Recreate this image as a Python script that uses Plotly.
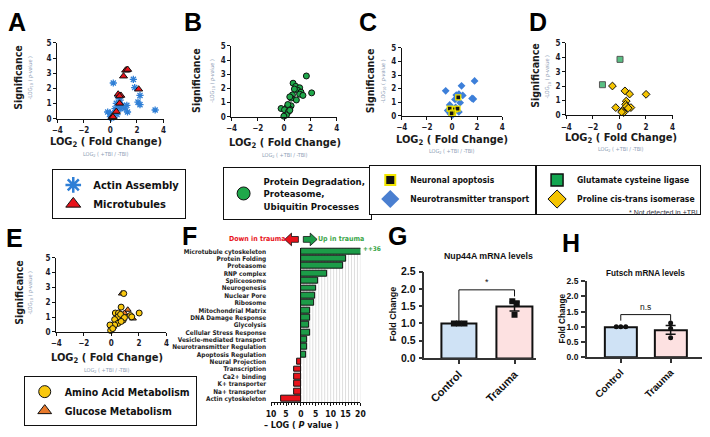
import plotly.graph_objects as go

W, H = 710, 437
CAL = "Liberation Sans Narrow, DejaVu Sans Condensed, Roboto, sans-serif"
ARI = "Liberation Sans, Arial, sans-serif"

# ---------------- data ----------------
A_actin_x = [0.22, 1.73, 1.83, 2.23, 2.08, 2.23, 3.37, 0.59, 0.74, 0.45, 0.89, 1.24, 0.64, 1.09, 0.35, 1.29, -0.2, 0.0, 0.2, 0.0, 0.1, 0.5, 0.79]
A_actin_y = [2.36, 2.60, 2.06, 1.54, 1.10, 0.93, 0.58, 1.45, 1.23, 1.02, 0.89, 0.89, 0.80, 0.71, 0.67, 0.45, 0.45, 0.37, 0.24, 0.15, 0.06, 0.28, 0.67]
A_mt_x = [1.24, 1.15, 1.3, 0.99, 2.13, 0.59, 0.79, 0.69, 0.69, 0.45, 0.15, 0.2]
A_mt_y = [3.22, 3.2, 3.25, 2.81, 1.95, 1.62, 1.54, 1.50, 1.02, 0.48, 0.15, 0.12]

B_x = [1.69, 2.09, 0.68, 0.88, 1.18, 1.03, 0.78, 1.28, 1.18, 1.43, 0.63, 0.53, 0.43, 0.93, 0.53, 0.43, 0.23, -0.23, 0.03, 0.33, 0.18, -0.02, 0.43, 0.28]
B_y = [2.88, 1.69, 2.37, 2.15, 2.05, 1.87, 1.96, 1.74, 1.60, 1.51, 1.55, 1.32, 1.41, 1.19, 0.78, 0.55, 0.68, 0.59, 0.50, 0.37, 0.14, 0.05, 0.46, 0.87]

C_nt_x = [-0.5, 0.76, 1.8, 1.7, 0.34, 0.55, 0.86, 0.24, 0.65, -0.18, -0.34, 0.13, 0.55, -0.13, 0.03, 0.29, 1.6]
C_nt_y = [1.84, 2.21, 2.57, 1.24, 1.53, 1.6, 1.5, 1.21, 0.97, 0.8, 0.39, 0.29, 0.29, 0.15, 0.05, 0.63, 1.28]
C_ap_x = [0.5, -0.18, 0.24, 0.44, 0.08, -0.03]
C_ap_y = [1.36, 0.53, 0.49, 0.53, 0.24, 0.19]

D_glu_x = [-3.38, 0.05, -1.27]
D_glu_y = [5.02, 3.86, 2.1]
D_glu_s = [10, 6, 6]
D_pro_x = [-0.52, 0.42, 0.77, 2.01, 0.52, 0.47, -0.27, 0.52, 0.87, 0.67, 0.22, 0.32, 0.17]
D_pro_y = [2.01, 1.67, 1.45, 1.43, 0.96, 0.74, 0.51, 0.6, 0.51, 0.47, 0.29, 0.16, 0.2]

E_glc_x = [0.76, 1.19, 0.95, 1.57, 0.76, 0.67, 0.38, 0.14]
E_glc_y = [2.59, 1.49, 1.27, 0.9, 1.12, 0.79, 0.61, 0.35]
E_aa_x = [0.9, 2.02, 0.71, 0.29, 0.52, 0.48, 0.67, 1.38, 1.48, 0.24, 0.48, 0.86, 0.95, 0.24, -0.1, -0.05, 0.1, 0.71]
E_aa_y = [2.59, 1.27, 1.67, 1.27, 1.27, 1.01, 1.18, 1.1, 1.01, 0.83, 0.57, 0.79, 0.96, 0.46, 0.46, 0.09, 0.22, 0.7]

F_terms = ["Microtubule cytoskeleton", "Protein Folding", "Proteasome", "RNP complex", "Spliceosome",
           "Neurogenesis", "Nuclear Pore", "Ribosome", "Mitochondrial Matrix", "DNA Damage Response",
           "Glycolysis", "Cellular Stress Response", "Vesicle-mediated transport", "Neurotransmitter Regulation",
           "Apoptosis Regulation", "Neural Projection", "Transcription", "Ca2+ binding", "K+ transporter",
           "Na+ transporter", "Actin cytoskeleton"]
F_values = [36, 15.2, 14.2, 8.7, 5.9, 5.0, 4.8, 4.6, 3.1, 3.1, 2.9, 3.0, 2.1, 2.0, 1.9,
            -1.3, -2.3, -2.3, -2.4, -2.4, -6.5]
F_ticks = [-10, -5, 0, 5, 10, 15, 20]
F_ticktext = ["10", "5", "0", "5", "10", "15", "20"]

groups = ["Control", "Trauma"]
G_means = [1.0, 1.49]
G_sem = [0.0, 0.13]
G_ctrl_pts = [1.0, 1.0, 1.0]
G_ctrl_jit = [-0.09, 0.0, 0.1]
G_tra_pts = [1.64, 1.58, 1.25]
G_tra_jit = [-0.04, 0.04, 0.0]
G_br_x = [0, 0, 1, 1]
G_br_y = [1.04, 1.97, 1.97, 1.78]

H_means = [1.0, 0.9]
H_sem = [0.0, 0.145]
H_ctrl_pts = [1.0, 1.0, 1.0]
H_ctrl_jit = [-0.09, 0.0, 0.1]
H_tra_pts = [1.12, 0.94, 0.64]
H_tra_jit = [0.0, 0.0, 0.0]
H_br_x = [0, 0, 1, 1]
H_br_y = [1.2, 1.4, 1.4, 1.2]


def X(px):
    return px / W


def Y(py):
    return 1 - py / H


fig = go.Figure()

panels = {
    1: (52, 160, 38, 116),
    2: (229, 336, 41, 114),
    3: (402, 504, 43, 113),
    4: (569, 677, 38, 112),
    5: (51, 163, 259, 335),
}

BL = dict(color="#111111", width=1)


def sc(xs, ys, axn, sym, color, size, line):
    fig.add_trace(go.Scatter(
        x=xs, y=ys, mode="markers", xaxis=f"x{axn}", yaxis=f"y{axn}",
        marker=dict(symbol=sym, color=color, size=size, line=line),
        showlegend=False, cliponaxis=False, hoverinfo="skip"))


def leg(name, legend, sym, color, line, size=13):
    fig.add_trace(go.Scatter(
        x=[None], y=[None], mode="markers", name=name, legend=legend,
        marker=dict(symbol=sym, color=color, size=size, line=line), showlegend=True))


# A
sc(A_actin_x, A_actin_y, 1, "asterisk-open", "#2f7fd6", 6, dict(color="#2f7fd6", width=1.3))
sc(A_mt_x, A_mt_y, 1, "triangle-up", "#e8121a", 7, BL)
leg("Actin Assembly", "legend", "asterisk-open", "#2f7fd6", dict(color="#2f7fd6", width=2.5))
leg("Microtubules", "legend", "triangle-up", "#e8121a", BL)
# B
sc(B_x, B_y, 2, "circle", "#1fa84a", 6, BL)
leg("Protein Degradation,<br>Proteasome,<br>Ubiquitin Processes", "legend2", "circle", "#1fa84a", BL)
# C
sc(C_nt_x, C_nt_y, 3, "diamond", "#3d7fd9", 6, dict(width=0))
sc(C_ap_x, C_ap_y, 3, "square", "#111111", 5, dict(color="#f2e600", width=1.3))
leg("Neuronal apoptosis", "legend3", "square", "#111111", dict(color="#f2e600", width=2), 10)
leg("Neurotransmitter transport", "legend3", "diamond", "#4a7fd0", dict(width=0), 14)
# D
sc(D_glu_x, D_glu_y, 4, "square", "#13a650", D_glu_s, BL)
sc(D_pro_x, D_pro_y, 4, "diamond", "#f5c400", 6, BL)
leg("Glutamate cysteine ligase", "legend4", "square", "#13a650", dict(color="#111", width=1.5), 12)
leg("Proline cis-trans isomerase", "legend4", "diamond", "#f5c400", BL, 14)
# E
sc(E_glc_x, E_glc_y, 5, "triangle-up", "#e8792b", 6, BL)
sc(E_aa_x, E_aa_y, 5, "circle", "#f9c80e", 6, BL)
leg("Amino Acid Metabolism", "legend5", "circle", "#f9c80e", BL, 12)
leg("Glucose Metabolism", "legend5", "triangle-up", "#e8792b", BL, 12)

for n, (x0, x1, y0, y1) in panels.items():
    common = dict(showline=True, linecolor="#111", linewidth=1, ticks="outside", ticklen=3,
                  tickcolor="#111", showgrid=False, zeroline=False,
                  tickfont=dict(family=CAL, size=8, color="#1a1a2a", weight="bold"))
    fig.update_layout(**{
        f"xaxis{n}": dict(domain=[X(x0), X(x1)], range=[-4, 4], tickvals=[-4, -2, 0, 2, 4],
                          anchor=f"y{n}", ticklabelstandoff=1, **common),
        f"yaxis{n}": dict(domain=[Y(y1), Y(y0)], range=[0, 5], dtick=1,
                          anchor=f"x{n}", **common),
    })

# F bars
F_colors = ["#1c9c48" if v > 0 else "#e8131b" for v in F_values]
fig.add_trace(go.Bar(x=F_values, y=F_terms, orientation="h", xaxis="x6", yaxis="y6",
                     marker=dict(color=F_colors, line=dict(color="#111", width=1)),
                     width=0.8, showlegend=False, hoverinfo="skip"))
fig.update_layout(
    xaxis6=dict(domain=[X(269.3), X(360)], range=[-10, 20], anchor="y6", tickvals=F_ticks,
                ticktext=F_ticktext, showline=True, linecolor="#111", linewidth=1,
                ticks="outside", ticklen=3, tickcolor="#111",
                minor=dict(dtick=1, ticks="outside", ticklen=2, tickcolor="#111"),
                showgrid=False, zeroline=True, zerolinecolor="#111", zerolinewidth=1,
                tickfont=dict(family=CAL, size=8.5, color="#111", weight="bold")),
    yaxis6=dict(domain=[Y(407.5), Y(248.5)], anchor="x6", autorange="reversed",
                tickmode="array", tickvals=F_terms, ticktext=F_terms,
                showline=False, ticks="", showgrid=False, ticklabelstandoff=4,
                tickfont=dict(family=CAL, size=6.4, color="#222", weight="bold")),
)
for v in range(1, 21):
    fig.add_shape(type="line", xref="x6", yref="y6 domain", x0=v, x1=v, y0=0, y1=1,
                  line=dict(color="#d0d0d0", width=0.7), layer="below")
fig.add_shape(type="line", xref="x6", yref="y6 domain", x0=0, x1=20, y0=1, y1=1,
              line=dict(color="#c8c8c8", width=1), layer="below")

bar_cols = ["#cfe2f5", "#fde1e1"]


def barpanel(n, means, sem, cpts, cjit, tpts, tjit, bx, by, dom_x, dom_y, rng, bw, sym, dsize,
             yfs, xfs):
    fig.add_trace(go.Bar(x=[0, 1], y=means, xaxis=f"x{n}", yaxis=f"y{n}", width=bw,
                         marker=dict(color=bar_cols, line=dict(color="#111", width=2)),
                         error_y=dict(type="data", array=sem, color="#111", thickness=1.5, width=5),
                         showlegend=False, hoverinfo="skip"))
    fig.add_trace(go.Scatter(x=cjit, y=cpts, mode="markers", xaxis=f"x{n}", yaxis=f"y{n}",
                             marker=dict(symbol=sym, color="#111", size=dsize), showlegend=False,
                             hoverinfo="skip"))
    fig.add_trace(go.Scatter(x=[1 + j for j in tjit], y=tpts, mode="markers", xaxis=f"x{n}",
                             yaxis=f"y{n}", marker=dict(symbol=sym, color="#111", size=dsize),
                             showlegend=False, hoverinfo="skip"))
    fig.add_trace(go.Scatter(x=bx, y=by, mode="lines", xaxis=f"x{n}", yaxis=f"y{n}",
                             line=dict(color="#111", width=1), showlegend=False, hoverinfo="skip"))
    fig.update_layout(**{
        f"xaxis{n}": dict(domain=dom_x, range=rng, anchor=f"y{n}", tickvals=[0, 1], ticktext=groups,
                          tickangle=-45, showline=True, linecolor="#333", linewidth=1.5,
                          ticks="outside", ticklen=4, tickwidth=1.5, tickcolor="#333",
                          showgrid=False, zeroline=False,
                          tickfont=dict(family=ARI, size=xfs, color="#111", weight="bold")),
        f"yaxis{n}": dict(domain=dom_y, range=[0, 2.5], dtick=0.5, tickformat=".1f",
                          anchor=f"x{n}", showline=True, linecolor="#333", linewidth=1.5,
                          ticks="outside", ticklen=4, tickwidth=1.5, tickcolor="#333",
                          showgrid=False, zeroline=False, ticklabelstandoff=1,
                          tickfont=dict(family=ARI, size=yfs, color="#111", weight="bold")),
    })


barpanel(7, G_means, G_sem, G_ctrl_pts, G_ctrl_jit, G_tra_pts, G_tra_jit, G_br_x, G_br_y,
         [X(425), X(538)], [Y(362), Y(273)], [-0.62, 1.38], 0.64, "square", 6, 10.5, 11)
barpanel(8, H_means, H_sem, H_ctrl_pts, H_ctrl_jit, H_tra_pts, H_tra_jit, H_br_x, H_br_y,
         [X(590), X(707)], [Y(361), Y(283)], [-0.68, 1.63], 0.65, "circle", 5, 8.5, 10)

# ---------------- annotations ----------------
ann = []


def t(text, px, py, size, color="#111", font=CAL, bold=True, angle=0, xa="center", ya="middle"):
    ann.append(dict(text=text, x=X(px), y=Y(py), xref="paper", yref="paper", showarrow=False,
                    textangle=angle, xanchor=xa, yanchor=ya,
                    font=dict(family=font, size=size, color=color, weight="bold" if bold else "normal")))


for L, px, py in [("A", 11, 16), ("B", 190, 16), ("C", 368, 16), ("D", 540, 16),
                  ("E", 9, 239), ("F", 186, 236), ("G", 398, 237), ("H", 574, 244)]:
    t(L, px, py, 25, "#000", ARI)

lab = {
    1: (12, 74, 25, 102, 140, 153),
    2: (193, 77, 210, 283, 141, 154),
    3: (370, 77, 384, 453, 138, 150),
    4: (537, 72, 550, 625, 136, 148),
    5: (13, 295, 25, 103, 362, 375),
}
for n, (sx, sy, ssx, lx, ly, lsy) in lab.items():
    t("Significance", sx, sy, 10.5, "#1a1a1a", angle=-90)
    t("-LOG<sub>10</sub> ( <i>p-value</i> )", ssx, sy, 5.5, "#8c9cb4", bold=False, angle=-90)
    t("LOG<sub>2</sub> ( Fold Change)", lx, ly, 11, "#1a1a1a")
    t("LOG<sub>2</sub> ( +TBI / -TBI)", lx, lsy, 5.5, "#8c9cb4", bold=False)

ann.append(dict(text="*", x=-2.95, y=5.3, xref="x4", yref="y4", showarrow=False,
                font=dict(family=ARI, size=10, color="#111")))
t("* Not detected in +TBI", 668, 212, 7, "#334", ARI, bold=False)

t("Down in trauma", 255, 240, 7, "#e8131b")
t("Up in trauma", 340, 240, 7, "#3aa648")
t("++36", 361, 250, 6.5, "#3aa648", xa="left")
t("– LOG ( <i>P</i> value )", 300, 431, 9, "#111")

t("Nup44A mRNA levels", 490, 257, 8.8, "#111", ARI)
t("Futsch mRNA levels", 650, 275, 8.2, "#111", ARI)
t("Fold Change", 393, 316, 9, "#111", ARI, angle=-90)
t("Fold Change", 565, 321, 8.2, "#111", ARI, angle=-90)
ann.append(dict(text="*", x=0.5, y=2.0, xref="x7", yref="y7", showarrow=False, yanchor="bottom",
                font=dict(family=ARI, size=9, color="#111")))
ann.append(dict(text="n.s", x=0.5, y=1.42, xref="x8", yref="y8", showarrow=False, yanchor="bottom",
                font=dict(family=ARI, size=8.5, color="#111")))


def pth(pts):
    return "M " + " L ".join(f"{X(a):.5f},{Y(b):.5f}" for a, b in pts) + " Z"


red_arrow = [(283, 240), (290, 233.5), (290, 237), (297, 237), (297, 243), (290, 243), (290, 246.5)]
green_arrow = [(316, 240), (309, 233.5), (309, 237), (302, 237), (302, 243), (309, 243), (309, 246.5)]
fig.add_shape(type="path", xref="paper", yref="paper", path=pth(red_arrow),
              fillcolor="#e8131b", line=dict(color="#111", width=0.8))
fig.add_shape(type="path", xref="paper", yref="paper", path=pth(green_arrow),
              fillcolor="#1c9c48", line=dict(color="#111", width=0.8))


def lg(x, y, xa, ya, size):
    return dict(x=x, y=y, xanchor=xa, yanchor=ya, bordercolor="#111", borderwidth=1,
                bgcolor="white", font=dict(family=CAL, size=size, color="#111", weight="bold"),
                itemclick=False, itemdoubleclick=False, tracegroupgap=0, itemwidth=30)


fig.update_layout(
    width=W, height=H, margin=dict(l=0, r=0, t=0, b=0),
    paper_bgcolor="white", plot_bgcolor="rgba(0,0,0,0)",
    annotations=ann, bargap=0,
    legend=lg(X(47), Y(168), "left", "top", 11),
    legend2=lg(X(220), Y(166), "left", "top", 9.5),
    legend3=lg(X(369), Y(163), "left", "top", 8.5),
    legend4=lg(X(706), Y(163), "right", "top", 8.5),
    legend5=lg(X(18), Y(432), "left", "bottom", 10.5),
)

fig.write_html("out.html", config={"displayModeBar": False},
               post_script="document.body.style.margin='0';document.body.style.overflow='hidden';")
